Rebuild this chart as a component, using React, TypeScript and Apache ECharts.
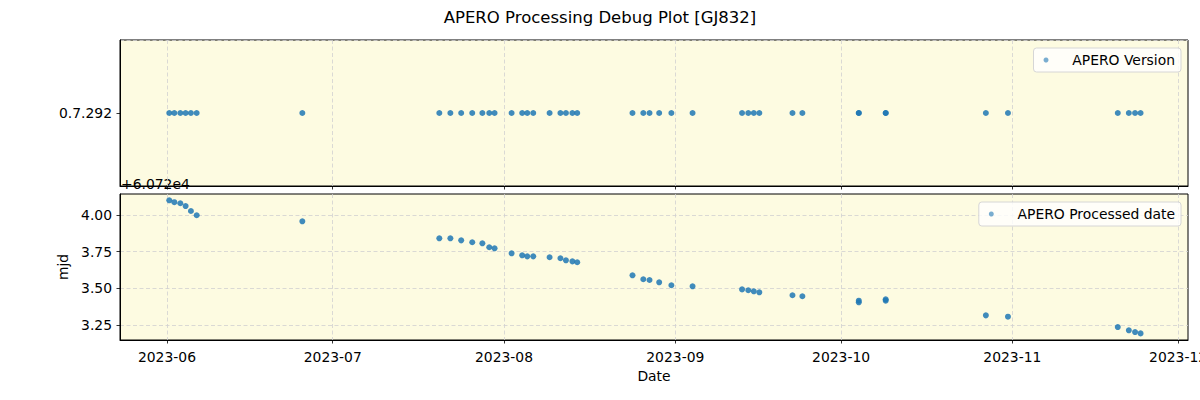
import React, { useEffect, useRef } from "react";
import * as echarts from "echarts";

const TITLE = "APERO Processing Debug Plot [GJ832]";
const VERSION_CATEGORIES = ["0.7.292"];
const MJD_OFFSET = 60720;
const OFFSET_LABEL = "+6.072e4";

const obsDates = [
  "2023-06-01 10:00", "2023-06-02 08:00", "2023-06-03 10:00", "2023-06-04 09:00",
  "2023-06-05 08:00", "2023-06-06 09:00", "2023-06-25 12:00", "2023-07-20 07:00",
  "2023-07-22 07:00", "2023-07-24 06:00", "2023-07-26 06:00", "2023-07-28 02:00",
  "2023-07-29 08:00", "2023-07-30 07:00", "2023-08-02 09:00", "2023-08-04 07:00",
  "2023-08-05 05:00", "2023-08-06 07:00", "2023-08-09 06:00", "2023-08-11 05:00",
  "2023-08-12 05:00", "2023-08-13 09:00", "2023-08-14 06:00", "2023-08-24 06:00",
  "2023-08-26 05:00", "2023-08-27 08:00", "2023-08-29 02:00", "2023-08-31 07:00",
  "2023-09-04 03:00", "2023-09-13 02:00", "2023-09-14 05:00", "2023-09-15 05:00",
  "2023-09-16 05:00", "2023-09-22 05:00", "2023-09-24 00:00", "2023-10-04 05:00",
  "2023-10-04 05:00", "2023-10-09 02:00", "2023-10-09 02:00", "2023-10-27 05:00",
  "2023-10-31 05:00", "2023-11-20 02:00", "2023-11-22 02:00", "2023-11-23 05:00",
  "2023-11-24 05:00",
];

const aperoVersions = [
  "0.7.292", "0.7.292", "0.7.292", "0.7.292", "0.7.292", "0.7.292", "0.7.292",
  "0.7.292", "0.7.292", "0.7.292", "0.7.292", "0.7.292", "0.7.292", "0.7.292",
  "0.7.292", "0.7.292", "0.7.292", "0.7.292", "0.7.292", "0.7.292", "0.7.292",
  "0.7.292", "0.7.292", "0.7.292", "0.7.292", "0.7.292", "0.7.292", "0.7.292",
  "0.7.292", "0.7.292", "0.7.292", "0.7.292", "0.7.292", "0.7.292", "0.7.292",
  "0.7.292", "0.7.292", "0.7.292", "0.7.292", "0.7.292", "0.7.292", "0.7.292",
  "0.7.292", "0.7.292", "0.7.292",
];

const processedMjd = [
  60724.100, 60724.087, 60724.080, 60724.061, 60724.027, 60723.998, 60723.957,
  60723.841, 60723.841, 60723.827, 60723.814, 60723.807, 60723.780, 60723.773,
  60723.739, 60723.725, 60723.718, 60723.718, 60723.712, 60723.705, 60723.691,
  60723.684, 60723.678, 60723.589, 60723.562, 60723.557, 60723.541, 60723.521,
  60723.514, 60723.493, 60723.487, 60723.480, 60723.473, 60723.453, 60723.446,
  60723.416, 60723.405, 60723.425, 60723.416, 60723.316, 60723.307, 60723.236,
  60723.214, 60723.202, 60723.193,
];

const monthTicks = ["2023-06", "2023-07", "2023-08", "2023-09", "2023-10", "2023-11", "2023-12"];
const mjdTicks = [3.25, 3.5, 3.75, 4.0];

const X_MIN = "2023-05-23 12:00";
const X_MAX = "2023-12-02 19:00";
const Y_MIN = 3.148;
const Y_MAX = 4.143;

const FONT = "DejaVu Sans";
const FS = 13.9;
const POINT_COLOR = "#1f77b4";
const GRID_LINE = { color: "#d0d0d0", width: 0.8, type: [4, 2.5] as number[] };

function parseLocal(s: string): number {
  const [d, t] = s.split(" ");
  const [y, m, day] = d.split("-").map(Number);
  const [hh, mm] = (t || "00:00").split(":").map(Number);
  return new Date(y, m - 1, day || 1, hh, mm).getTime();
}

const monthTickValues = monthTicks.map((m) => parseLocal(m + "-01 00:00"));

export default function App() {
  const ref = useRef<HTMLDivElement>(null);

  useEffect(() => {
    if (!ref.current) return;
    const chart = echarts.init(ref.current, null, { renderer: "svg" });

    const xBase = {
      type: "value",
      scale: true,
      min: parseLocal(X_MIN),
      max: parseLocal(X_MAX),
      axisLine: { show: true, lineStyle: { color: "#000", width: 1 } },
      axisTick: {
        show: true,
        length: 3.5,
        lineStyle: { color: "#000", width: 0.8 },
        customValues: monthTickValues,
      },
      splitLine: { show: true, lineStyle: GRID_LINE },
    };

    const versionData = obsDates.map((d, i) => [parseLocal(d), aperoVersions[i]]);
    const mjdData = obsDates.map((d, i) => [parseLocal(d), +(processedMjd[i] - MJD_OFFSET).toFixed(4)]);

    const legendBase = {
      orient: "vertical",
      icon: "circle",
      itemWidth: 16,
      itemHeight: 5,
      padding: [5, 6, 5, 10],
      borderColor: "#d6d6d6",
      borderWidth: 1,
      borderRadius: 3,
      backgroundColor: "rgba(255,255,255,0.8)",
      textStyle: { fontFamily: FONT, fontSize: FS, color: "#000" },
    };

    const gridBase = {
      left: 120,
      right: 12,
      height: 146,
      show: true,
      backgroundColor: "#fdfbe1",
      borderColor: "#000",
      borderWidth: 1,
      containLabel: false,
      outerBoundsMode: "none",
    };

    chart.setOption({
      animation: false,
      backgroundColor: "#fff",
      textStyle: { fontFamily: FONT },
      title: {
        text: TITLE,
        left: "center",
        top: 4,
        textStyle: { fontFamily: FONT, fontSize: 16.5, fontWeight: "normal", color: "#000" },
      },
      grid: [
        { ...gridBase, top: 40 },
        { ...gridBase, top: 194 },
      ],
      legend: [
        {
          ...legendBase,
          right: 19,
          top: 48,
          data: [{ name: "APERO Version", itemStyle: { color: POINT_COLOR, opacity: 0.6 } }],
          formatter: (n: string) => "   " + n,
        },
        {
          ...legendBase,
          right: 19,
          top: 202,
          data: [{ name: "APERO Processed date", itemStyle: { color: POINT_COLOR, opacity: 0.6 } }],
          formatter: (n: string) => "   " + n,
        },
      ],
      xAxis: [
        {
          ...xBase,
          gridIndex: 0,
          axisLabel: { show: false, customValues: monthTickValues },
        },
        {
          ...xBase,
          gridIndex: 1,
          name: "Date",
          nameLocation: "middle",
          nameGap: 29,
          nameTextStyle: { fontFamily: FONT, fontSize: FS, color: "#000" },
          axisLabel: {
            show: true,
            customValues: monthTickValues,
            margin: 10,
            fontFamily: FONT,
            fontSize: FS,
            color: "#000",
            hideOverlap: false,
            formatter: (v: number) => {
              const d = new Date(v);
              return d.getFullYear() + "-" + String(d.getMonth() + 1).padStart(2, "0");
            },
          },
        },
      ],
      yAxis: [
        {
          type: "category",
          gridIndex: 0,
          data: VERSION_CATEGORIES,
          boundaryGap: true,
          axisLine: { show: true, lineStyle: { color: "#000", width: 1 } },
          axisTick: { show: true, alignWithLabel: true, length: 3.5, lineStyle: { color: "#000", width: 0.8 } },
          axisLabel: { margin: 8, fontFamily: FONT, fontSize: FS, color: "#000" },
          splitLine: { show: true, lineStyle: GRID_LINE },
        },
        {
          type: "value",
          gridIndex: 1,
          min: Y_MIN,
          max: Y_MAX,
          name: "mjd",
          nameLocation: "middle",
          nameGap: 47,
          nameRotate: 90,
          nameTextStyle: { fontFamily: FONT, fontSize: FS, color: "#000" },
          axisLine: { show: true, lineStyle: { color: "#000", width: 1 } },
          axisTick: { show: true, length: 3.5, lineStyle: { color: "#000", width: 0.8 }, customValues: mjdTicks },
          axisLabel: {
            margin: 8,
            fontFamily: FONT,
            fontSize: FS,
            color: "#000",
            customValues: mjdTicks,
            formatter: (v: number) => v.toFixed(2),
          },
          splitLine: { show: true, lineStyle: GRID_LINE },
        },
      ],
      graphic: [
        {
          type: "text",
          left: 121,
          top: 177,
          style: { text: OFFSET_LABEL, fontFamily: FONT, fontSize: FS, fill: "#000" },
        },
      ],
      series: [
        {
          name: "APERO Version",
          type: "scatter",
          xAxisIndex: 0,
          yAxisIndex: 0,
          data: versionData,
          symbolSize: 6,
          itemStyle: { color: POINT_COLOR, opacity: 0.85 },
        },
        {
          name: "APERO Processed date",
          type: "scatter",
          xAxisIndex: 1,
          yAxisIndex: 1,
          data: mjdData,
          symbolSize: 6,
          itemStyle: { color: POINT_COLOR, opacity: 0.85 },
        },
      ],
    });

    return () => chart.dispose();
  }, []);

  return <div ref={ref} style={{ width: 1200, height: 400, position: "absolute", left: 0, top: 0 }} />;
}
